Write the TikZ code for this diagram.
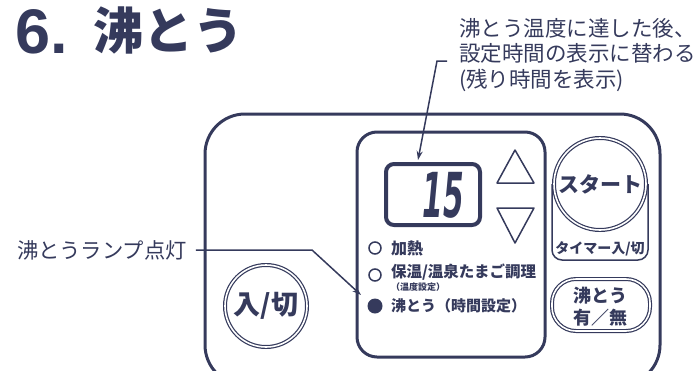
\documentclass[tikz,border=0pt]{standalone}
\usepackage{fontspec}
\newfontfamily\jp{Noto Sans CJK JP}
\newfontfamily\lat{Liberation Sans}
\newfontfamily\dvs{DejaVu Sans}
\usetikzlibrary{arrows.meta,calc}
\definecolor{ink}{HTML}{353A5C}
\begin{document}
\begin{tikzpicture}[x=1pt,y=-1pt,
  every node/.style={inner sep=0pt, outer sep=0pt, text=ink},
  jtxt/.style={font={\jp\fontsize{#1}{#1}\selectfont}},
  jbold/.style={font={\jp\bfseries\fontsize{#1}{#1}\selectfont}},
  panel/.style={draw=ink, line width=3pt},
  lead/.style={draw=ink, line width=1.5pt},
  dbl/.style={draw=ink, double=white, line width=1.2pt, double distance=1.6pt},
  thin/.style={draw=ink, line width=1.5pt, line join=round}]
\useasboundingbox (0,0) rectangle (700,370);
\begin{scope}
\clip (0,0) rectangle (700,370);
% title
\node[anchor=base west, font={\lat\bfseries\fontsize{63}{63}\selectfont}] (t6) at (15,53) {6.};
\node[anchor=base west, jbold=50] (ttl) at (93,49) {沸とう};
% callout texts
\node[anchor=west, jtxt=21.5] (c1) at (459,28) {沸とう温度に達した後、};
\node[anchor=west, jtxt=21.5] (c2) at (459,53) {設定時間の表示に替わる};
\node[anchor=west, jtxt=21.5] (c3) at (459,80) {(残り時間を表示)};
\node[anchor=west, jtxt=21.3] (lamp) at (17,250) {沸とうランプ点灯};
% panels
\draw[panel, rounded corners=40pt] (205,114) rectangle (660,385);
\draw[panel, rounded corners=20pt] (357,132) rectangle (545,357);
% display
\node[draw=ink, line width=4pt, rounded corners=8pt, minimum width=94pt, minimum height=61pt] (disp) at (433,194.5) {};
\node[font={\dvs\bfseries\itshape\fontsize{62}{62}\selectfont}] (dig) at (443,195) {\scalebox{0.48}[1]{15}};
% arrows up/down
\draw[thin] (515,150) -- (534,183) -- (497,183) -- cycle;
\draw[thin] (497,208) -- (534,208) -- (515,243) -- cycle;
% indicators
\node[circle, draw=ink, line width=1.5pt, minimum size=12pt] (l1) at (375,248) {};
\node[circle, draw=ink, line width=1.5pt, minimum size=12pt] (l2) at (375,275) {};
\node[circle, fill=ink, minimum size=15pt] (l3) at (375,306) {};
\node[anchor=west, jbold=16] (i1) at (391,248) {加熱};
\node[anchor=west, jbold=15.5] (i2) at (391,272) {保温/温泉たまご調理};
\node[anchor=west, jbold=9] (i2s) at (391,287.5) {（温度設定）};
\node[anchor=west, jbold=15] (i3) at (391,306) {沸とう（時間設定）};
% start button
\draw[thin, rounded corners=10pt] (552,184) -- (552,260) -- (648,260) -- (648,184);
\node[circle, dbl, minimum size=92pt] (start) at (600,184) {};
\node[jbold=21] (startt) at (600,184) {スタート};
\node[jbold=14] (timer) at (600,249) {タイマー入/切};
% boil button
\node[dbl, rounded corners=24pt, minimum width=98pt, minimum height=52pt] (boil) at (601,305) {};
\node[jbold=18] (boil1) at (600,296) {沸とう};
\node[jbold=18] (boil2) at (600,318) {有／無};
% on/off
\node[circle, dbl, minimum size=82pt] (onoff) at (266,306) {};
\node[jbold=27] (onofft) at (266,306) {入/切};
\end{scope}
% leaders
\coordinate (a1) at (447,61);
\coordinate (a2) at (437,61);
\coordinate (dtop) at (418,160);
\draw[lead, -{Stealth[length=9pt,width=6pt]}] (a1) -- (a2) -- (dtop);
\coordinate (b1) at ($(lamp.east)+(9,0)$);
\coordinate (b2) at (312,250);
\coordinate (btip) at (361,295);
\draw[lead, -{Stealth[length=9pt,width=6pt]}] (b1) -- (b2) -- (btip);
\end{tikzpicture}
\end{document}
